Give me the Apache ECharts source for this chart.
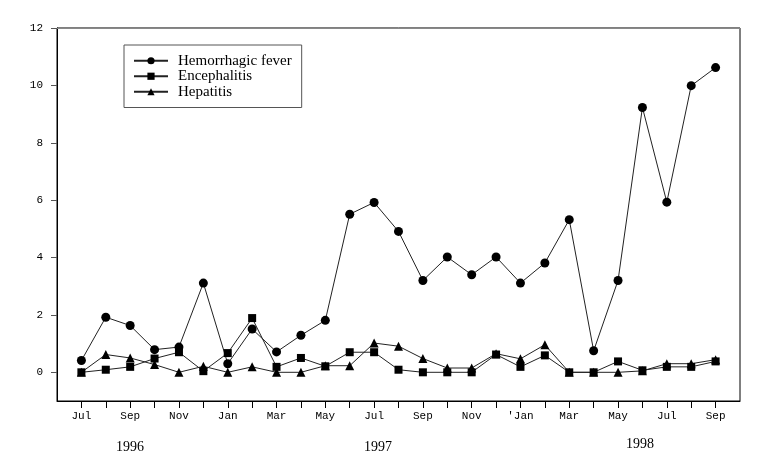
<!DOCTYPE html>
<html>
<head>
<meta charset="utf-8">
<script src="https://cdn.jsdelivr.net/npm/echarts@6/dist/echarts.min.js"></script>
<style>
  html, body { margin: 0; padding: 0; background: #fff; }
  #chart { width: 762px; height: 464px; }
</style>
</head>
<body>
<div id="chart"></div>
<script>
// Jul 1996 .. Sep 1998, one point per month
const months = ['Jul', 'Aug', 'Sep', 'Oct', 'Nov', 'Dec', 'Jan', 'Feb', 'Mar', 'Apr', 'May', 'Jun',
  'Jul', 'Aug', 'Sep', 'Oct', 'Nov', 'Dec', "'Jan", 'Feb', 'Mar', 'Apr', 'May', 'Jun', 'Jul', 'Aug', 'Sep']

const hemorrhagic = [0.41, 1.92, 1.63, 0.79, 0.88, 3.11, 0.30, 1.51, 0.71, 1.29, 1.81, 5.51,
  5.92, 4.91, 3.20, 4.02, 3.40, 4.02, 3.11, 3.81, 5.32, 0.75, 3.20, 9.23, 5.93, 9.99, 10.62]
const encephalitis = [0, 0.09, 0.19, 0.48, 0.70, 0.04, 0.67, 1.89, 0.19, 0.50, 0.21, 0.70,
  0.70, 0.09, 0, 0, 0, 0.62, 0.19, 0.59, 0, 0, 0.38, 0.07, 0.19, 0.19, 0.38]
const hepatitis = [0, 0.62, 0.50, 0.27, 0, 0.21, 0, 0.19, 0, 0, 0.23, 0.23,
  1.02, 0.91, 0.48, 0.15, 0.15, 0.65, 0.47, 0.96, 0, 0, 0, 0.05, 0.30, 0.30, 0.44]

const yTicks = [0, 2, 4, 6, 8, 10, 12]
const years = [
  { label: '1996', x: 130, y: 447 },
  { label: '1997', x: 378, y: 447 },
  { label: '1998', x: 640, y: 444 }
]

const chart = echarts.init(document.getElementById('chart'), null, { renderer: 'canvas' })

const monoFont = '"Liberation Mono", "DejaVu Sans Mono", monospace'
const serifFont = '"Liberation Serif", "DejaVu Serif", serif'

function makeSeries(name, values, symbol, size) {
  return {
    name: name,
    type: 'line',
    data: values.map((v, i) => [i, v]),
    symbol: symbol,
    symbolSize: size,
    showSymbol: true,
    itemStyle: { color: '#000' },
    lineStyle: { color: '#222', width: 1 },
    emphasis: { disabled: true },
    animation: false
  }
}

const option = {
  backgroundColor: '#fff',
  grid: {
    left: 57,
    right: 22,
    top: 28,
    bottom: 63,
    show: true,
    borderColor: '#000',
    borderWidth: 1
  },
  legend: {
    left: 124,
    top: 45,
    orient: 'vertical',
    padding: [8, 10, 8, 9],
    itemWidth: 34,
    itemHeight: 9,
    itemGap: 0,
    borderColor: '#555',
    borderWidth: 1,
    textStyle: { fontFamily: serifFont, fontSize: 15, color: '#000', padding: [0, 0, 0, 5], lineHeight: 15.5 },
    data: ['Hemorrhagic fever', 'Encephalitis', 'Hepatitis']
  },
  xAxis: [{
    type: 'value',
    min: -1,
    max: 27,
    interval: 1,
    splitLine: { show: false },
    axisLine: { show: true, onZero: false, lineStyle: { color: '#000' } },
    axisTick: {
      show: true,
      length: 7,
      lineStyle: { color: '#000' },
      customValues: months.map((m, i) => i)
    },
    axisLabel: {
      margin: 10,
      fontFamily: monoFont,
      fontSize: 11,
      color: '#000',
      customValues: months.map((m, i) => i).filter(i => i % 2 === 0),
      formatter: v => months[v]
    }
  }, {
    type: 'value',
    position: 'top',
    min: -1,
    max: 27,
    axisLine: { show: true, onZero: false, lineStyle: { color: '#888' } },
    axisTick: { show: false },
    axisLabel: { show: false },
    splitLine: { show: false }
  }],
  yAxis: {
    type: 'value',
    min: -1,
    max: 12,
    splitLine: { show: false },
    axisLine: { show: true, onZero: false, lineStyle: { color: '#000' } },
    axisTick: {
      show: true,
      length: 6,
      lineStyle: { color: '#555' },
      customValues: yTicks
    },
    axisLabel: {
      margin: 14,
      fontFamily: monoFont,
      fontSize: 11,
      color: '#000',
      customValues: yTicks
    }
  },
  graphic: years.map(y => ({
    type: 'text',
    x: y.x,
    y: y.y,
    style: {
      text: y.label,
      fontFamily: serifFont,
      fontSize: 14,
      fill: '#000',
      textAlign: 'center',
      textVerticalAlign: 'middle'
    }
  })),
  series: [
    makeSeries('Hemorrhagic fever', hemorrhagic, 'circle', 9),
    makeSeries('Encephalitis', encephalitis, 'rect', 8),
    makeSeries('Hepatitis', hepatitis, 'triangle', 9)
  ]
}

chart.setOption(option)
</script>
</body>
</html>
